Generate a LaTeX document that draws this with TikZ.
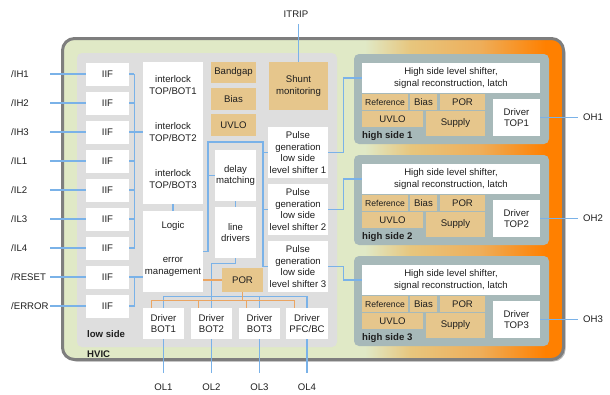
\documentclass[tikz,border=0pt]{standalone}
\usepackage{fontspec}
\setmainfont{Liberation Sans}
\usetikzlibrary{calc}
\definecolor{hg}{HTML}{E0E9C6}
\definecolor{ht}{HTML}{E7C67E}
\definecolor{ho}{HTML}{EEAE5A}
\definecolor{hor}{HTML}{FF8000}
\definecolor{bordc}{HTML}{7E7E7E}
\definecolor{lsgray}{HTML}{DEDEDE}
\definecolor{hsgray}{HTML}{A7B9B9}
\definecolor{tanc}{HTML}{E6C68C}
\definecolor{lblue}{HTML}{7AB2E8}
\definecolor{porc}{HTML}{EBA562}
\definecolor{txtc}{HTML}{1E1E1E}
\begin{document}
\begin{tikzpicture}[x=1pt,y=-1pt,
  every node/.style={inner sep=0pt, text=txtc},
  base/.style={font=\fontsize{9.6}{11.6}\selectfont, align=center},
  wbox/.style={base, fill=white},
  tbox/.style={base, fill=tanc},
  sz/.style n args={2}{minimum width=#1pt, minimum height=#2pt},
  bl/.style={draw=lblue, line width=1.2pt},
  ol/.style={draw=porc, line width=1.2pt},
  lab/.style={base, anchor=west},
  boldlab/.style={font=\fontsize{9.6}{11.6}\selectfont\bfseries, anchor=west},
]
\useasboundingbox (0,0) rectangle (610,394);

% HVIC outer box
\fill[black!28, rounded corners=12pt] (64.5,40.5) rectangle (565.5,361.5);
\begin{scope}
  \clip[rounded corners=12pt] (62.5,38.5) rectangle (563.5,359.5);
  \fill[hg] (60,36) rectangle (365.5,362);
  \shade[left color=hg, right color=ht] (365,36) rectangle (410.5,362);
  \shade[left color=ht, right color=ho] (410,36) rectangle (480.5,362);
  \shade[left color=ho, right color=hor] (480,36) rectangle (545.5,362);
  \fill[hor] (545,36) rectangle (566,362);
\end{scope}
\draw[draw=bordc, line width=3pt, rounded corners=12pt] (62.5,38.5) rectangle (563.5,359.5);
\node[boldlab] (hvic) at (87,354) {HVIC};

% low side container
\fill[lsgray, rounded corners=5pt] (77,53) rectangle (337,347);
\node[boldlab] (lowside) at (87,334) {low side};

% IIF boxes and inputs
\node[wbox,sz={43}{23}] (iif1) at (107.5,74) {IIF};
\node[wbox,sz={43}{23}] (iif2) at (107.5,103) {IIF};
\node[wbox,sz={43}{23}] (iif3) at (107.5,132) {IIF};
\node[wbox,sz={43}{23}] (iif4) at (107.5,161) {IIF};
\node[wbox,sz={43}{23}] (iif5) at (107.5,190) {IIF};
\node[wbox,sz={43}{23}] (iif6) at (107.5,219) {IIF};
\node[wbox,sz={43}{23}] (iif7) at (107.5,248) {IIF};
\node[wbox,sz={43}{23}] (iif8) at (107.5,277) {IIF};
\node[wbox,sz={43}{23}] (iif9) at (107.5,306) {IIF};

\node[lab] (in1) at (11,74) {/IH1};
\node[lab] (in2) at (11,103) {/IH2};
\node[lab] (in3) at (11,132) {/IH3};
\node[lab] (in4) at (11,161) {/IL1};
\node[lab] (in5) at (11,190) {/IL2};
\node[lab] (in6) at (11,219) {/IL3};
\node[lab] (in7) at (11,248) {/IL4};
\node[lab] (in8) at (11,277) {/RESET};
\node[lab] (in9) at (11,306) {/ERROR};
\foreach \k/\yy in {1/74,2/103,3/132,4/161,5/190,6/219,7/248,8/277,9/306}{
  \coordinate (ic\k) at (50,\yy);
  \draw[bl] (ic\k) -- (iif\k.west);
}

% interlock / logic
\node[wbox,sz={60}{142}] (ilk) at (173,133) {};
\node[base] (ilt1) at (173,85) {interlock\\TOP/BOT1};
\node[base] (ilt2) at (173,132) {interlock\\TOP/BOT2};
\node[base] (ilt3) at (173,179) {interlock\\TOP/BOT3};
\node[wbox,sz={60}{81}] (logic) at (173,251.5) {};
\node[base] (logt1) at (173,226) {Logic};
\node[base] (logt2) at (173,267) {error\\management};

% supply blocks
\node[tbox,sz={45}{21}] (bandgap) at (233.5,72.5) {Bandgap};
\node[tbox,sz={45}{22}] (bias) at (233.5,99) {Bias};
\node[tbox,sz={45}{22}] (uvlo) at (233.5,125) {UVLO};
\node[tbox,sz={59}{48}] (shunt) at (298.5,86) {Shunt\\monitoring};
\node[base] (itrip) at (296,14) {ITRIP};

% pulse generation
\node[wbox,sz={60}{51}] (pg1) at (298,152.5) {Pulse\\generation\\low side\\level shifter 1};
\node[wbox,sz={60}{51}] (pg2) at (298,209.5) {Pulse\\generation\\low side\\level shifter 2};
\node[wbox,sz={60}{51}] (pg3) at (298,266.5) {Pulse\\generation\\low side\\level shifter 3};

\node[wbox,sz={41}{51}] (dm) at (235.5,175.5) {delay\\matching};
\node[wbox,sz={41}{51}] (ld) at (235.5,232.5) {line\\drivers};
\node[tbox,sz={41}{24}] (por) at (242.5,280) {POR};

% drivers
\node[wbox,sz={41}{31}] (bot1) at (163.5,323.5) {Driver\\BOT1};
\node[wbox,sz={41}{31}] (bot2) at (211.5,323.5) {Driver\\BOT2};
\node[wbox,sz={41}{31}] (bot3) at (259.5,323.5) {Driver\\BOT3};
\node[wbox,sz={42}{31}] (pfc) at (307,323.5) {Driver\\PFC/BC};
\node[base] (ol1) at (163.5,387) {OL1};
\node[base] (ol2) at (211.5,387) {OL2};
\node[base] (ol3) at (259.5,387) {OL3};
\node[base] (ol4) at (307,387) {OL4};

% high side blocks
\foreach \i/\dy in {1/0,2/101,3/202}{
 \begin{scope}[shift={(0,\dy)}]
  \fill[hsgray, rounded corners=5pt] (354,54) rectangle (549,144);
  \node[wbox,sz={178}{30}] (hstop\i) at (451,78) {High side level shifter,\\signal reconstruction, latch};
  \node[tbox,sz={46}{16},font=\fontsize{8.6}{10}\selectfont] (ref\i) at (385,102) {Reference};
  \node[tbox,sz={27}{16}] (hbias\i) at (423.5,102) {Bias};
  \node[tbox,sz={45}{16}] (hpor\i) at (462.5,102) {POR};
  \node[tbox,sz={61}{16}] (huvlo\i) at (392.5,119) {UVLO};
  \node[tbox,sz={59}{25}] (sup\i) at (455.5,123.5) {Supply};
  \node[wbox,sz={47}{37}] (top\i) at (516.5,117.5) {Driver\\TOP\i};
  \node[boldlab] (hsl\i) at (362,136) {high side \i};
  \node[lab] (ohl\i) at (583,117.5) {OH\i};
  \coordinate (ohc\i) at (578,117.5);
  \draw[bl] (top\i.east) -- (ohc\i);
 \end{scope}
}

% low side connectors
\foreach \k in {1,...,7}{\draw[bl] (iif\k.east) -- ++(5,0);}
\draw[bl] (iif1.east) ++(5,0) |- (iif7.east);
\draw[bl] (iif3.east) -- (ilk.west |- iif3.east);
\draw[bl] (iif8.east) -- ++(5,0) |- (iif9.east);
\draw[bl] (iif8.east) -- (logic.west |- iif8.east);
\draw[bl] (ilk.south) -- (logic.north);

\coordinate (j1) at (208,142);
\coordinate (j2) at (263,142);
\draw[bl] (logic.east) -| (j1) -- (j2) |- (pg3.west);
\draw[bl] (j2 |- pg1.west) -- (pg1.west);
\draw[bl] (j2 |- pg2.west) -- (pg2.west);
\draw[bl] (dm.west) -- (dm.west -| j1);
\draw[bl] (dm.south) -- (ld.north);
\draw[bl] (ld.south) -- ++(0,5) -| (bot2.north);
\draw[bl] (bot1.north) -- ++(0,-11) -| (pfc.north);
\draw[bl] (bot3.north) -- ++(0,-11);

\draw[ol] (por.west) -- (por.west -| logic.east);
\draw[ol] (por.south) -- ++(0,9);
\draw[ol] ($(bot1.north west)+(9,0)$) -- ++(0,-7) -| ($(pfc.north west)+(9,0)$);
\draw[ol] ($(bot2.north west)+(8,0)$) -- ++(0,-7);
\draw[ol] ($(bot3.north west)+(8,0)$) -- ++(0,-7);

\draw[bl] (bot1.south) -- ++(0,34);
\draw[bl] (bot2.south) -- ++(0,34);
\draw[bl] (bot3.south) -- ++(0,34);
\draw[bl] (pfc.south) -- ++(0,34);

\draw[bl] (shunt.north) -- ++(0,-38);

% low side to high side
\draw[bl] (pg1.east) -- ++(15,0) |- (hstop1.west);
\draw[bl] (pg2.east) -- ++(15,0) |- (hstop2.west);
\draw[bl] (pg3.east) -- ++(15,0) |- (hstop3.west);
\end{tikzpicture}
\end{document}
